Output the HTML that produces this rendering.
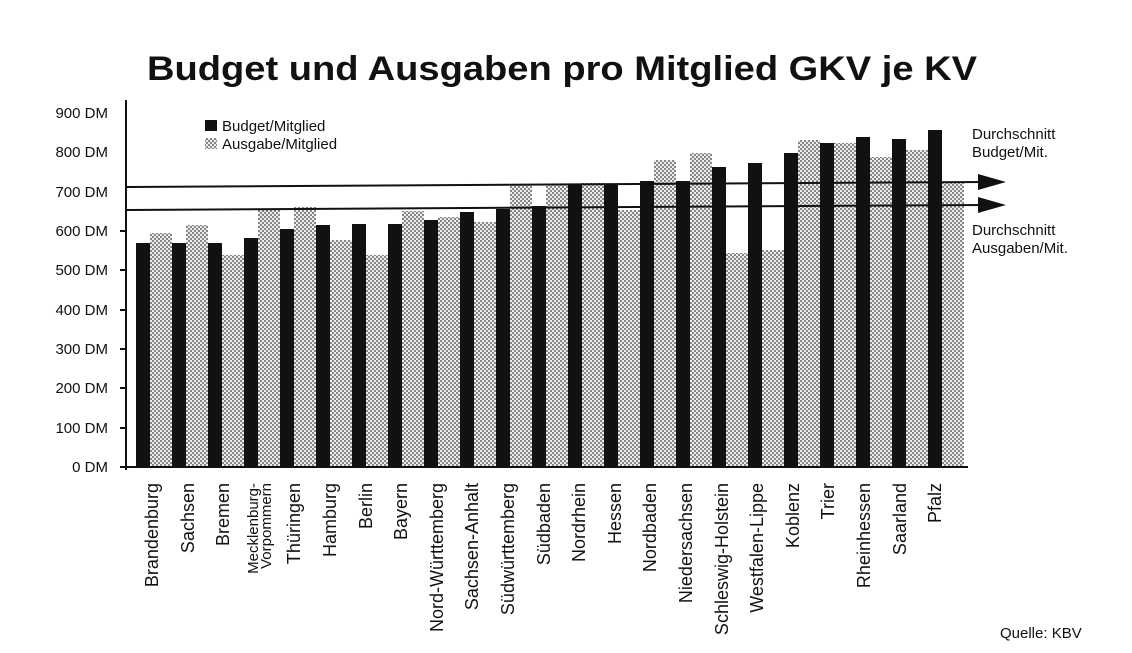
<!DOCTYPE html>
<html><head><meta charset="utf-8"><style>body{margin:0;background:#fff}svg{display:block}text{font-family:"Liberation Sans",sans-serif;fill:#111}</style></head><body>
<svg width="1132" height="653" viewBox="0 0 1132 653">
<defs>
<pattern id="dots" width="4" height="4" patternUnits="userSpaceOnUse"><rect width="4" height="4" fill="#ececec"/><circle cx="1" cy="1" r="1" fill="#666"/><circle cx="3" cy="3" r="1" fill="#666"/></pattern>
</defs>
<text x="562" y="80" font-size="34" font-weight="bold" text-anchor="middle" textLength="830" lengthAdjust="spacingAndGlyphs">Budget und Ausgaben pro Mitglied GKV je KV</text>
<g font-size="15" text-anchor="end">
<text x="108" y="118">900 DM</text><text x="108" y="157">800 DM</text><text x="108" y="197">700 DM</text><text x="108" y="236">600 DM</text><text x="108" y="275">500 DM</text><text x="108" y="315">400 DM</text><text x="108" y="354">300 DM</text><text x="108" y="393">200 DM</text><text x="108" y="433">100 DM</text><text x="108" y="472">0 DM</text>
</g>
<g fill="url(#dots)">
<rect x="150" y="233" width="22" height="234"/><rect x="186" y="225" width="22" height="242"/><rect x="222" y="255" width="22" height="212"/><rect x="258" y="210" width="22" height="257"/><rect x="294" y="207" width="22" height="260"/><rect x="330" y="240" width="22" height="227"/><rect x="366" y="255" width="22" height="212"/><rect x="402" y="211" width="22" height="256"/><rect x="438" y="217" width="22" height="250"/><rect x="474" y="222" width="22" height="245"/><rect x="510" y="185" width="22" height="282"/><rect x="546" y="185" width="22" height="282"/><rect x="582" y="183" width="22" height="284"/><rect x="618" y="210" width="22" height="257"/><rect x="654" y="160" width="22" height="307"/><rect x="690" y="153" width="22" height="314"/><rect x="726" y="253" width="22" height="214"/><rect x="762" y="250" width="22" height="217"/><rect x="798" y="140" width="22" height="327"/><rect x="834" y="143" width="22" height="324"/><rect x="870" y="157" width="22" height="310"/><rect x="906" y="150" width="22" height="317"/><rect x="942" y="183" width="22" height="284"/>
</g>
<g fill="#111">
<rect x="136" y="243" width="14" height="224"/><rect x="172" y="243" width="14" height="224"/><rect x="208" y="243" width="14" height="224"/><rect x="244" y="238" width="14" height="229"/><rect x="280" y="229" width="14" height="238"/><rect x="316" y="225" width="14" height="242"/><rect x="352" y="224" width="14" height="243"/><rect x="388" y="224" width="14" height="243"/><rect x="424" y="220" width="14" height="247"/><rect x="460" y="212" width="14" height="255"/><rect x="496" y="209" width="14" height="258"/><rect x="532" y="206" width="14" height="261"/><rect x="568" y="184" width="14" height="283"/><rect x="604" y="184" width="14" height="283"/><rect x="640" y="181" width="14" height="286"/><rect x="676" y="181" width="14" height="286"/><rect x="712" y="167" width="14" height="300"/><rect x="748" y="163" width="14" height="304"/><rect x="784" y="153" width="14" height="314"/><rect x="820" y="143" width="14" height="324"/><rect x="856" y="137" width="14" height="330"/><rect x="892" y="139" width="14" height="328"/><rect x="928" y="130" width="14" height="337"/>
</g>
<g stroke="#111" stroke-width="2" fill="none">
<line x1="126" y1="100" x2="126" y2="470"/>
<line x1="120" y1="467" x2="968" y2="467"/>
<line x1="120" y1="428" x2="126" y2="428"/><line x1="120" y1="388" x2="126" y2="388"/><line x1="120" y1="349" x2="126" y2="349"/><line x1="120" y1="310" x2="126" y2="310"/><line x1="120" y1="270" x2="126" y2="270"/><line x1="120" y1="231" x2="126" y2="231"/>
<line x1="126" y1="187" x2="985" y2="182"/>
<line x1="126" y1="210" x2="985" y2="205"/>
</g>
<polygon points="978,174 1006,182 978,190" fill="#111"/>
<polygon points="978,197 1006,205 978,213" fill="#111"/>
<rect x="205" y="120" width="12" height="11" fill="#111"/>
<rect x="205" y="138" width="12" height="11" fill="url(#dots)"/>
<text x="222" y="131" font-size="15">Budget/Mitglied</text>
<text x="222" y="149" font-size="15">Ausgabe/Mitglied</text>
<g font-size="15">
<text x="972" y="139">Durchschnitt</text><text x="972" y="157">Budget/Mit.</text>
<text x="972" y="235">Durchschnitt</text><text x="972" y="253">Ausgaben/Mit.</text>
<text x="1000" y="638">Quelle: KBV</text>
</g>
<g font-size="18" text-anchor="end">
<text transform="translate(158,483) rotate(-90)">Brandenburg</text>
<text transform="translate(194,483) rotate(-90)">Sachsen</text>
<text transform="translate(229,483) rotate(-90)">Bremen</text>
<text transform="translate(258,483) rotate(-90)" font-size="15">Mecklenburg-</text>
<text transform="translate(271,483) rotate(-90)" font-size="15">Vorpommern</text>
<text transform="translate(300,483) rotate(-90)">Thüringen</text>
<text transform="translate(336,483) rotate(-90)">Hamburg</text>
<text transform="translate(372,483) rotate(-90)">Berlin</text>
<text transform="translate(407,483) rotate(-90)">Bayern</text>
<text transform="translate(443,483) rotate(-90)">Nord-Württemberg</text>
<text transform="translate(478,483) rotate(-90)">Sachsen-Anhalt</text>
<text transform="translate(514,483) rotate(-90)">Südwürttemberg</text>
<text transform="translate(550,483) rotate(-90)">Südbaden</text>
<text transform="translate(585,483) rotate(-90)">Nordrhein</text>
<text transform="translate(621,483) rotate(-90)">Hessen</text>
<text transform="translate(656,483) rotate(-90)">Nordbaden</text>
<text transform="translate(692,483) rotate(-90)">Niedersachsen</text>
<text transform="translate(728,483) rotate(-90)">Schleswig-Holstein</text>
<text transform="translate(763,483) rotate(-90)">Westfalen-Lippe</text>
<text transform="translate(799,483) rotate(-90)">Koblenz</text>
<text transform="translate(834,483) rotate(-90)">Trier</text>
<text transform="translate(870,483) rotate(-90)">Rheinhessen</text>
<text transform="translate(906,483) rotate(-90)">Saarland</text>
<text transform="translate(941,483) rotate(-90)">Pfalz</text>
</g>
</svg>
</body></html>
